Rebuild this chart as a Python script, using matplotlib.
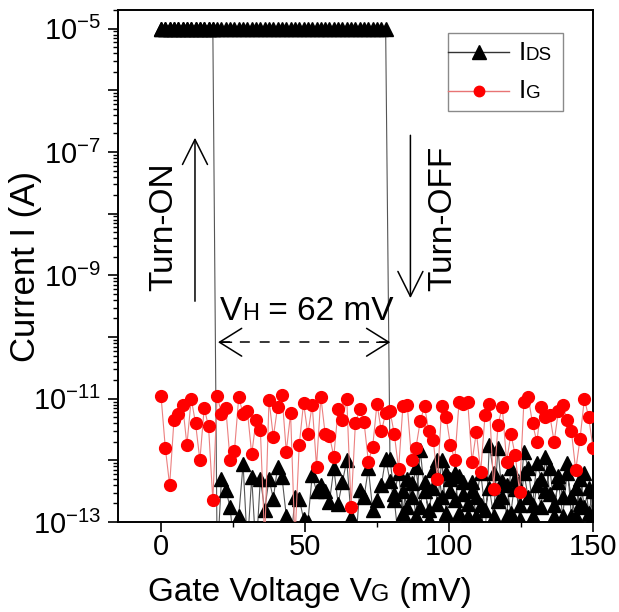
import numpy as np
import matplotlib
matplotlib.use("Agg")
import matplotlib.pyplot as plt
from matplotlib.ticker import LogLocator, FixedLocator, FuncFormatter
from matplotlib.offsetbox import AnchoredOffsetbox, HPacker, VPacker, TextArea, DrawingArea
from matplotlib.lines import Line2D

plt.rcParams['font.family'] = ['Liberation Sans', 'DejaVu Sans']
plt.rcParams['mathtext.fontset'] = 'custom'
plt.rcParams['mathtext.rm'] = 'Liberation Sans'
plt.rcParams['mathtext.it'] = 'Liberation Sans:italic'
plt.rcParams['mathtext.bf'] = 'Liberation Sans:bold'
plt.rcParams['mathtext.default'] = 'regular'
plt.rcParams['axes.unicode_minus'] = False

# ---------------- data ----------------
VG_START, VG_STOP, VG_STEP = 0.0, 150.0, 1.5          # gate sweep (mV)
ON_EXP = -5.0                                          # compliance level, log10(A)
N_ON_UP = 53        # points at compliance in the up sweep (0 ... 78 mV)
N_ON_DOWN = 13      # points at compliance in the down sweep (0 ... 18 mV)

# I_G, log10(A), 0 -> 150 mV
IG_EXP = [
    -10.95, -11.80, -12.40, -11.35, -11.25, -11.10, -11.75, -11.00, -11.40, -12.00,
    -11.15, -11.45, -12.65, -10.95, -11.25, -11.15, -12.00, -11.85, -10.97, -11.25,
    -11.20, -11.90, -11.35, -11.50, -13.30, -11.02, -11.62, -11.13, -10.94, -11.86,
    -11.24, -13.30, -11.75, -11.07, -11.57, -11.10, -12.10, -10.97, -11.57, -11.60,
    -11.94, -11.17, -11.34, -11.00, -12.76, -11.40, -11.17, -11.38, -12.02, -11.78,
    -11.08, -11.53, -11.24, -11.20, -11.57, -12.14, -11.12, -11.10, -11.99, -11.80,
    -11.37, -11.12, -11.53, -11.67, -12.30, -11.12, -11.30, -11.75, -11.99, -11.05,
    -11.08, -11.05, -12.02, -11.54, -12.19, -11.27, -11.08, -12.46, -11.43, -11.13,
    -12.02, -11.57, -11.92, -12.51, -11.05, -10.97, -11.40, -11.70, -11.14, -11.30,
    -11.27, -11.70, -11.20, -11.10, -11.34, -11.53, -12.16, -11.65, -11.00, -11.30,
    -11.80]

# I_DS off-state, up sweep, log10(A), 79.5 -> 150 mV
IDS_UP_OFF_EXP = [
    -11.98, -12.55, -12.20, -12.85, -12.30, -12.60, -12.10, -12.75, -12.35, -12.95,
    -12.15, -12.70, -12.00, -12.85, -12.30, -12.65, -12.25, -12.55, -12.90, -12.35,
    -12.60, -12.20, -12.80, -12.45, -12.90, -11.80, -12.60, -12.40, -12.85, -12.30,
    -12.95, -12.20, -12.60, -12.90, -12.40, -12.75, -11.95, -12.55, -12.90, -12.25,
    -12.60, -12.05, -12.90, -12.45, -12.70, -12.20, -12.85, -12.50]

# I_DS off-state, down sweep, log10(A), listed 19.5 -> 150 mV
IDS_DOWN_OFF_EXP = [
    -13.60, -12.30, -12.48, -12.76, -13.50, -12.90, -12.06, -13.40, -12.27, -13.50,
    -12.30, -12.80, -12.30, -12.62, -12.10, -12.27, -12.90, -13.40, -12.60, -12.62,
    -12.95, -13.00, -12.24, -12.50, -12.40, -12.50, -12.67, -12.13, -12.70, -12.35,
    -12.00, -12.92, -13.40, -12.48, -12.60, -12.13, -12.80, -12.64, -12.40, -11.97,
    -12.33, -12.64, -13.30, -12.50, -12.75, -12.37, -12.90, -11.83, -12.50, -12.80,
    -12.45, -12.00, -12.60, -12.20, -12.50, -12.20, -12.85, -12.35, -12.70, -12.50,
    -12.90, -12.72, -13.30, -11.75, -12.20, -12.66, -12.33, -12.90, -12.13, -12.46,
    -12.72, -11.86, -12.13, -12.72, -12.04, -12.30, -12.50, -12.13, -12.72, -12.35,
    -12.90, -12.20, -12.60, -12.90, -12.30, -12.75, -12.45, -12.90]

XTICKS = [0, 50, 100, 150]
XMINOR = [25, 75, 125]
XLIM = (-15, 150)
YLIM = (1e-13, 2e-5)

# ---------------- build series ----------------
VG = np.arange(VG_START, VG_STOP + VG_STEP / 2, VG_STEP)
ig = 10.0 ** np.array(IG_EXP)
up_exp = np.array([ON_EXP] * N_ON_UP + IDS_UP_OFF_EXP)
down_exp = np.array([ON_EXP] * N_ON_DOWN + IDS_DOWN_OFF_EXP)
vg_ids = np.concatenate([VG, VG[::-1]])
ids = 10.0 ** np.concatenate([up_exp, down_exp[::-1]])

# ---------------- figure ----------------
fig = plt.figure(figsize=(6.19, 6.12), dpi=100)
ax = fig.add_axes([0.1903, 0.147, 0.7677, 0.8366])

ax.plot(vg_ids, ids, color='#555555', lw=0.8, marker='^', ms=10.5,
        mfc='black', mec='black', zorder=2)
ax.plot(VG, ig, color='#ec8080', lw=0.8, marker='o', ms=8.5,
        mfc='#ff0000', mec='#ff0000', zorder=3)

ax.set_yscale('log')
ax.set_xlim(*XLIM)
ax.set_ylim(*YLIM)

ax.xaxis.set_major_locator(FixedLocator(XTICKS))
ax.xaxis.set_minor_locator(FixedLocator(XMINOR))
ax.yaxis.set_major_locator(LogLocator(base=10, subs=(1.0,), numticks=40))
ax.yaxis.set_minor_locator(LogLocator(base=10, subs=np.arange(2, 10), numticks=40))


def yfmt(v, pos):
    e = int(round(np.log10(v)))
    if e % 2 != 0:
        return r'$\mathregular{10^{%d}}$' % e
    return ''


ax.yaxis.set_major_formatter(FuncFormatter(yfmt))
ax.tick_params(which='major', direction='out', length=7, width=1.2,
               labelsize=21, top=False, right=False)
ax.tick_params(axis='x', which='major', pad=1)
ax.tick_params(axis='y', which='major', pad=5)
ax.tick_params(which='minor', direction='out', length=3.5, width=1.0,
               top=False, right=False)
for s in ax.spines.values():
    s.set_linewidth(1.4)

# ---------------- labels ----------------
def composite(parts, big, small):
    boxes = [TextArea(t, textprops=dict(fontsize=(small if sm else big), color='black'))
             for t, sm in parts]
    return HPacker(children=boxes, align='baseline', pad=0, sep=0)


xl = AnchoredOffsetbox(loc='upper center',
                       child=composite([('Gate Voltage V', False), ('G', True), (' (mV)', False)], 24, 17),
                       bbox_to_anchor=(0.5, 0.058), bbox_transform=fig.transFigure,
                       frameon=False, pad=0, borderpad=0)
fig.add_artist(xl)

fig.text(26 / 619, 1 - 266 / 612, 'Current I (A)', rotation=90,
         ha='center', va='center', fontsize=25)

# annotations
ax.text(0.9, 10 ** -8.21, 'Turn-ON', rotation=90, ha='center', va='center', fontsize=24)
ax.text(97.9, 10 ** -8.07, 'Turn-OFF', rotation=90, ha='center', va='center', fontsize=24)

head = dict(arrowstyle='->,head_length=0.4,head_width=0.2', lw=1.1, color='black',
            mutation_scale=45, shrinkA=0, shrinkB=0)
ax.annotate('', xy=(11.8, 10 ** -6.77), xytext=(11.8, 10 ** -9.42), arrowprops=head)
ax.annotate('', xy=(86.6, 10 ** -9.37), xytext=(86.6, 10 ** -6.73), arrowprops=head)

vh = AnchoredOffsetbox(loc='lower left',
                       child=composite([('V', False), ('H', True), (' = 62 mV', False)], 24, 17),
                       bbox_to_anchor=(20.3, 10 ** -9.84), bbox_transform=ax.transData,
                       frameon=False, pad=0, borderpad=0)
ax.add_artist(vh)

y_dash = 10 ** -10.085
ax.plot([20.5, 79.0], [y_dash, y_dash], color='black', lw=1.1, dashes=(6.5, 6.5))
small_head = dict(arrowstyle='->,head_length=0.4,head_width=0.25', lw=1.1, color='black',
                  mutation_scale=40, shrinkA=0, shrinkB=0)
ax.annotate('', xy=(19.8, y_dash), xytext=(24.5, y_dash), arrowprops=small_head)
ax.annotate('', xy=(79.6, y_dash), xytext=(74.9, y_dash), arrowprops=small_head)

# ---------------- legend ----------------
def handle(marker, ms, mcolor, lcolor):
    da = DrawingArea(39, 20, 0, 0)
    da.add_artist(Line2D([-4.5, 39], [10.5, 10.5], color=lcolor, lw=1.0))
    da.add_artist(Line2D([17.5], [10.5], marker=marker, ms=ms, color=mcolor,
                         mec=mcolor, ls='none'))
    return da


row1 = HPacker(children=[handle('^', 10, 'black', '#333333'),
                         composite([('I', False), ('DS', True)], 19, 13.5)],
               align='center', pad=0, sep=7)
row2 = HPacker(children=[handle('o', 7.5, '#ff0000', '#e87474'),
                         composite([('I', False), ('G', True)], 19, 13.5)],
               align='center', pad=0, sep=7)
rows = VPacker(children=[row1, row2], align='left', pad=4.5, sep=7.5)
legbox = HPacker(children=[rows, DrawingArea(3.5, 1, 0, 0)], align='center', pad=0, sep=0)
leg = AnchoredOffsetbox(loc='upper right', child=legbox, pad=0, borderpad=0,
                        bbox_to_anchor=(563 / 619, 1 - 33 / 612),
                        bbox_transform=fig.transFigure, frameon=True)
leg.patch.set_edgecolor('#8a8a8a')
leg.patch.set_linewidth(1.0)
leg.patch.set_boxstyle('square', pad=0)
ax.add_artist(leg)

fig.savefig('out.png', dpi=100)
